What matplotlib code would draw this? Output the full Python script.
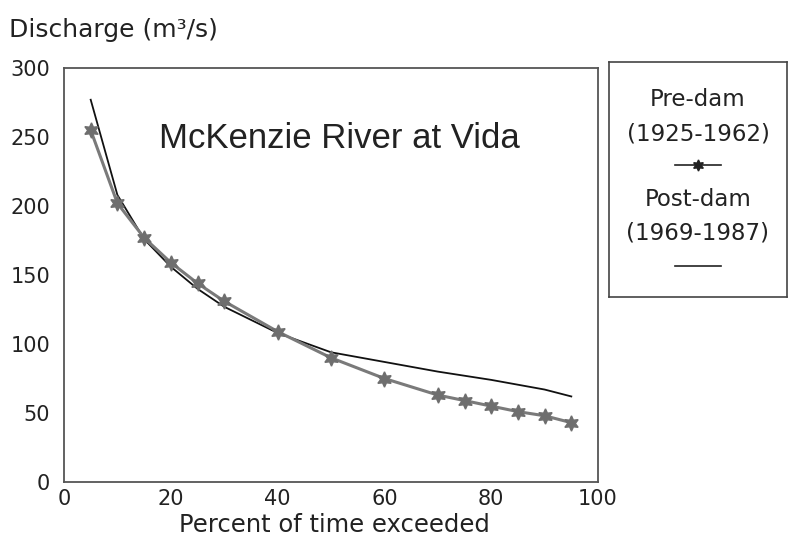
import numpy as np
import matplotlib
matplotlib.use('Agg')
from matplotlib import pyplot as plt

plt.rcParams['font.family'] = ['DejaVu Sans']

# flow duration curve, McKenzie River at Vida
pre_x = [5, 10, 15, 20, 25, 30, 40, 50, 60, 70, 75, 80, 85, 90, 95]
pre_q = [255, 202, 177, 159, 144, 131, 109, 90, 75, 63, 59, 55, 51, 48, 43]

post_x = [5, 10, 15, 20, 25, 30, 40, 50, 60, 70, 80, 90, 95]
post_q = [277, 208, 176, 156, 140, 127, 108, 94, 87, 80, 74, 67, 62]

xticks = [0, 20, 40, 60, 80, 100]
yticks = [0, 50, 100, 150, 200, 250, 300]

txt = '#222222'

fig = plt.figure(figsize=(7.89, 5.49), dpi=100)
ax = fig.add_axes([64/789, 1-482/549, (598-64)/789, (482-68)/549])

star = (6, 1, 0)
ax.plot(post_x, post_q, color='#111111', lw=1.3)
ax.plot(pre_x, pre_q, color='#7a7a7a', lw=2.2, marker=star, ms=11,
        mfc='#6e6e6e', mec='#6e6e6e')

ax.set_xlim(0, 100)
ax.set_ylim(0, 300)
ax.set_xticks(xticks)
ax.set_yticks(yticks)
ax.tick_params(labelsize=15, length=0, colors=txt)
ax.tick_params(axis='x', pad=5)
ax.tick_params(axis='y', pad=10)
for s in ax.spines.values():
    s.set_color('#555555')
    s.set_linewidth(1.3)

ax.text(0.515, 0.83, 'McKenzie River at Vida', transform=ax.transAxes,
        ha='center', va='center', fontsize=25, color=txt,
        family='Liberation Sans')
fig.text(334/789, 1-525/549, 'Percent of time exceeded', fontsize=17.5,
         color=txt, ha='center', va='center')
fig.text(9/789, 1-30/549, 'Discharge (m³/s)', fontsize=18, color=txt,
         va='center')

# legend box
lg = fig.add_axes([609/789, 1-297/549, (787-609)/789, (297-62)/549])
lg.set_xlim(0, 1)
lg.set_ylim(297, 62)
lg.set_xticks([])
lg.set_yticks([])
for s in lg.spines.values():
    s.set_color('#444444')
    s.set_linewidth(1.2)
cx = 0.5
lg.text(cx, 100, 'Pre-dam', ha='center', va='center', fontsize=16.5, color=txt)
lg.text(cx, 134, '(1925-1962)', ha='center', va='center', fontsize=16.5, color=txt)
lg.plot([0.37, 0.5, 0.63], [165, 165, 165], color='#222222', lw=1.2,
        marker=star, markevery=[1], ms=8)
lg.text(cx, 199, 'Post-dam', ha='center', va='center', fontsize=16.5, color=txt)
lg.text(cx, 233, '(1969-1987)', ha='center', va='center', fontsize=16.5, color=txt)
lg.plot([0.37, 0.63], [266, 266], color='#222222', lw=1.2)

fig.savefig('out.png', dpi=100)
